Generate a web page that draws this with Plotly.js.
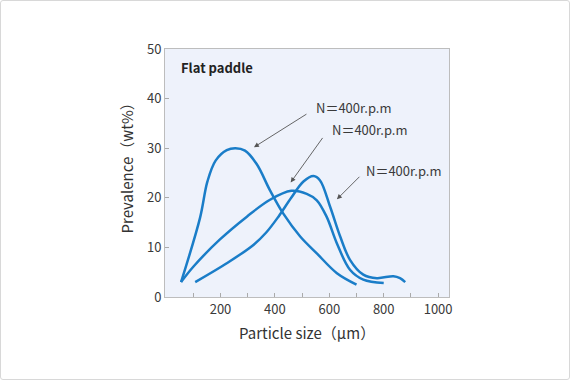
<!DOCTYPE html>
<html>
<head>
<meta charset="utf-8">
<script src="https://cdn.plot.ly/plotly-3.0.1.min.js"></script>
<style>
  html, body { margin: 0; padding: 0; background: #ffffff; }
  #wrap { position: relative; width: 570px; height: 380px; }
  #chart { width: 570px; height: 380px; }
  #frame { position: absolute; left: 0; top: 0; width: 570px; height: 380px; box-sizing: border-box;
           border: 1px solid #d8d8d8; border-radius: 3px; pointer-events: none; }
</style>
</head>
<body>
<div id="wrap"><div id="chart"></div><div id="frame"></div></div>
<script>
// Curve A (peak ~30 wt% near 250 um)
const sizeA = [55, 125, 152, 182, 223, 255, 290, 333, 382, 431, 493, 554, 628, 700];
const prevA = [3, 16.0, 23.3, 27.5, 29.6, 30, 29.5, 26.8, 21.5, 16.8, 12.2, 8.8, 4.8, 2.5];
// Curve B (peak ~21.5 wt% near 470 um)
const sizeB = [55, 100, 198, 297, 382, 460, 517, 554, 590, 628, 676, 725, 800];
const prevB = [3, 6.1, 11.6, 16.2, 19.6, 21.4, 20.8, 19.5, 16.2, 10.8, 5.5, 3.5, 2.8];
// Curve C (peak ~24.4 wt% near 540 um)
const sizeC = [107, 223, 321, 368, 413, 460, 505, 542, 566, 603, 640, 676, 725, 775, 836, 860, 879];
const prevC = [3, 6.8, 10.5, 13.0, 16.2, 20.0, 23.3, 24.4, 23.5, 18.2, 12.2, 7.5, 4.5, 3.8, 4.2, 3.8, 3];

const xTickVals = [100, 200, 300, 400, 500, 600, 700, 800, 900, 1000];
const xTickText = ['', '200', '', '400', '', '600', '', '800', '', '1000'];
const yTickVals = [0, 10, 20, 30, 40, 50];

const labelText = 'N＝400r.p.m';
const lineColor = '#1a7dc8';
const jp = '"Noto Sans CJK JP", "Noto Sans", sans-serif';

function curve(x, y) {
  return { x: x, y: y, type: 'scatter', mode: 'lines',
           line: { color: lineColor, width: 2.5, shape: 'spline', smoothing: 1.0 },
           hoverinfo: 'skip', showlegend: false };
}

const arrowBase = { text: '', showarrow: true, arrowhead: 2, arrowsize: 1.1, arrowwidth: 0.9,
                    arrowcolor: '#555555', xref: 'x', yref: 'y', axref: 'pixel', ayref: 'pixel' };
const textBase = { showarrow: false, xref: 'x', yref: 'y', xanchor: 'left', yanchor: 'middle',
                   borderpad: 0, font: { family: jp, size: 13, color: '#3a3a3a' } };

const layout = {
  width: 570, height: 380,
  margin: { l: 165, r: 121, t: 49, b: 83, pad: 0 },
  paper_bgcolor: '#ffffff',
  plot_bgcolor: '#eef2fb',
  font: { family: jp, size: 13, color: '#3a3a3a' },
  xaxis: {
    range: [-4, 1040], showgrid: false, zeroline: false,
    tickmode: 'array', tickvals: xTickVals, ticktext: xTickText,
    ticks: 'inside', ticklen: 4, tickcolor: '#aaaaaa', tickwidth: 1,
    showline: true, linecolor: '#bdbdbd', linewidth: 1, mirror: true,
    tickfont: { family: jp, size: 13, color: '#3a3a3a' }
  },
  yaxis: {
    range: [0, 50], showgrid: false, zeroline: false,
    tickmode: 'array', tickvals: yTickVals,
    ticks: 'inside', ticklen: 4, tickcolor: '#aaaaaa', tickwidth: 1,
    showline: true, linecolor: '#bdbdbd', linewidth: 1, mirror: true,
    tickfont: { family: jp, size: 13, color: '#3a3a3a' }
  },
  annotations: [
    Object.assign({}, arrowBase, { x: 323, y: 30.2, ax: 54, ay: -34 }),
    Object.assign({}, arrowBase, { x: 458, y: 23.1, ax: 33, ay: -46 }),
    Object.assign({}, arrowBase, { x: 628, y: 19.7, ax: 24, ay: -24 }),
    Object.assign({}, textBase, { x: 548, y: 38.2, text: labelText }),
    Object.assign({}, textBase, { x: 605, y: 33.7, text: labelText }),
    Object.assign({}, textBase, { x: 731, y: 25.6, text: labelText }),
    Object.assign({}, textBase, { x: 52, y: 46.3, text: '<b>Flat paddle</b>',
                                  font: { family: jp, size: 13, color: '#222222' } }),
    { xref: 'paper', yref: 'paper', x: 0.5, y: -0.145, xanchor: 'center', yanchor: 'middle',
      showarrow: false, text: 'Particle size（μm）', font: { family: jp, size: 15, color: '#333333' } },
    { xref: 'paper', yref: 'paper', x: -0.134, y: 0.534, xanchor: 'center', yanchor: 'middle',
      textangle: -90, showarrow: false, text: 'Prevalence（wt%）', font: { family: jp, size: 15, color: '#333333' } }
  ]
};

Plotly.newPlot('chart', [curve(sizeA, prevA), curve(sizeB, prevB), curve(sizeC, prevC)], layout,
               { staticPlot: true, displayModeBar: false });
</script>
</body>
</html>
